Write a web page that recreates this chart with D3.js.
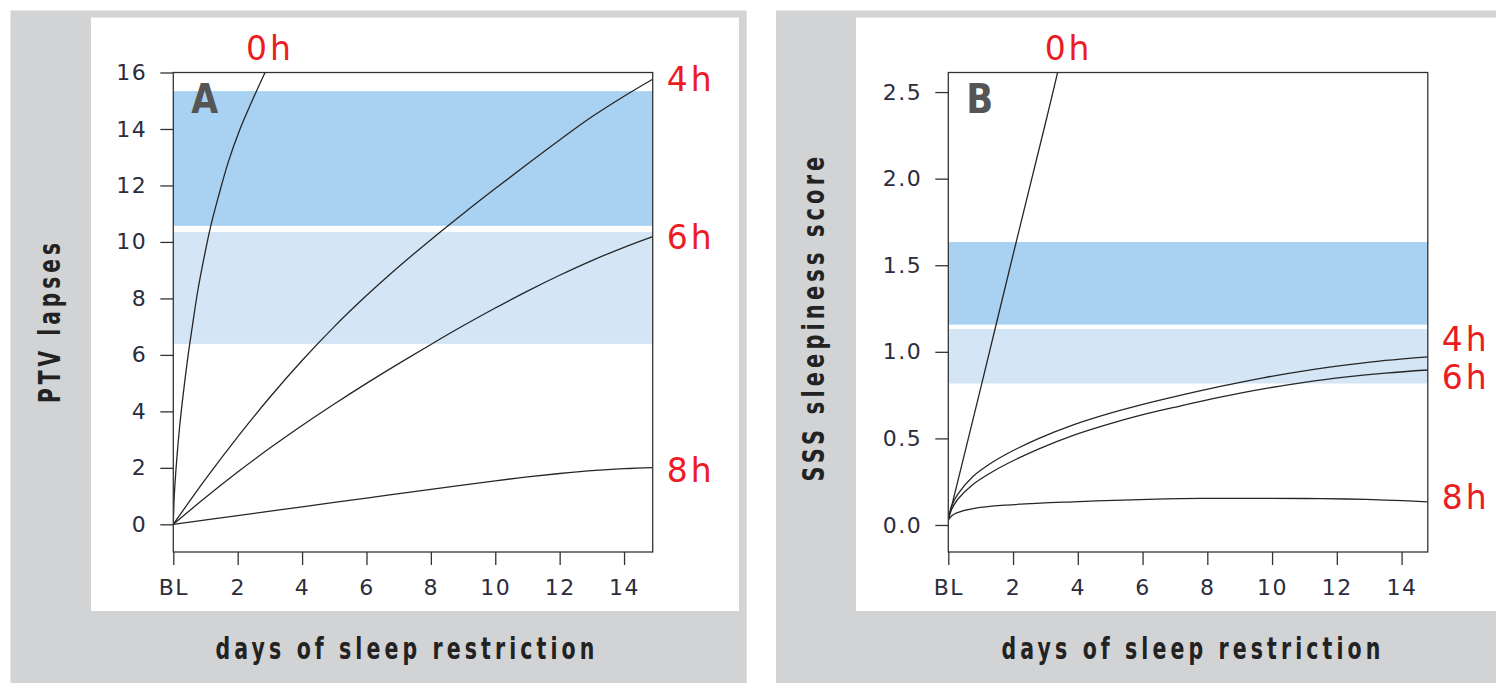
<!DOCTYPE html>
<html lang="en">
<head>
<meta charset="utf-8">
<title>Sleep restriction: PVT lapses and SSS sleepiness</title>
<script src="https://d3js.org/d3.v7.min.js"></script>
<style>
  body { margin: 0; background: #fff; }
  svg { display: block; }
  .axis text { font-family: "DejaVu Sans", sans-serif; font-size: 22px; fill: #2b2d3c; letter-spacing: 1.5px; }
  .axis line { stroke: #333; stroke-width: 1.3; }
  .hour { font-family: "DejaVu Sans", sans-serif; font-size: 33px; fill: #ec1c24; letter-spacing: 3px; }
  .title { font-family: "DejaVu Sans", sans-serif; font-weight: bold; font-size: 30px; fill: #222; letter-spacing: 6px; }
  .letter { font-family: "DejaVu Sans", sans-serif; font-weight: bold; font-size: 41px; fill: #555; }
  .curve { fill: none; stroke: #262626; stroke-width: 1.3; }
</style>
</head>
<body>
<script>
// ---- data ----
const hourLabels = ["0h", "4h", "6h", "8h"];
const dayTicks = [0, 2, 4, 6, 8, 10, 12, 14];

// panel A: PVT lapses
const ptvTicks = [0, 2, 4, 6, 8, 10, 12, 14, 16];
const ptv0h = [[0,0],[0.03,1.0],[0.105,2.27],[0.2,3.5],[0.31,4.63],[0.45,5.9],[0.59,7.0],[0.75,8.2],[0.93,9.3],[1.15,10.5],[1.4,11.6],[1.7,12.8],[2.04,13.9],[2.45,15.0],[2.85,16.0],[3.1,16.6]];
const ptv4h = [[0,0],[1,1.6],[2,3.1],[3,4.5],[4,5.8],[5,7.0],[6,8.1],[7,9.12],[8,10.08],[9,11.0],[10,11.89],[11,12.76],[12,13.61],[13,14.43],[14,15.16],[14.89,15.76]];
const ptv6h = [[0,0],[1,0.95],[2,1.85],[3,2.7],[4,3.5],[5,4.26],[6,4.99],[7,5.69],[8,6.37],[9,7.03],[10,7.66],[11,8.26],[12,8.82],[13,9.34],[14,9.81],[14.89,10.19]];
const ptv8h = [[0,0],[2,0.31],[4,0.62],[6,0.93],[8,1.24],[10,1.54],[11,1.68],[12,1.8],[13,1.9],[14,1.97],[14.89,2.01]];
const ptvBands = [[10.57, 15.34], [6.39, 10.35]];

// panel B: SSS sleepiness score
const sssTicks = [0, 0.5, 1.0, 1.5, 2.0, 2.5];
const sss0h = [[0,0.03],[1,0.79],[2,1.56],[3,2.32],[3.5,2.71]];
const sss4h = [[0,0.03],[0.1,0.11],[0.3,0.18],[0.77,0.282],[1.3,0.355],[1.8,0.41],[2.8,0.5],[3.86,0.578],[4.9,0.64],[5.92,0.692],[7.16,0.748],[8.4,0.8],[9.73,0.85],[11,0.89],[12.31,0.924],[13.5,0.95],[14.81,0.971]];
const sss6h = [[0,0.03],[0.1,0.09],[0.3,0.15],[0.77,0.235],[1.3,0.3],[1.8,0.352],[2.8,0.44],[3.86,0.518],[4.9,0.58],[5.92,0.633],[7.16,0.687],[8.4,0.738],[9.73,0.786],[11,0.824],[12.31,0.855],[13.5,0.877],[14.81,0.895]];
const sss8h = [[0,0.03],[0.1,0.052],[0.26,0.07],[0.77,0.095],[1.8,0.115],[3.86,0.134],[5.92,0.147],[7.16,0.152],[8.5,0.154],[9.73,0.154],[11,0.153],[12.31,0.15],[13.5,0.144],[14.81,0.134]];
const sssBands = [[1.157, 1.634], [0.817, 1.132]];

const bandColors = ["#a9d1f1", "#d4e5f5"];

const W = 1496, H = 683;
const svg = d3.select("body").append("svg").attr("width", W).attr("height", H);

// squeeze a text horizontally to a given width (stands in for a condensed face)
function condensed(parent, cls, str, width, transform, baselineShift) {
  const t = parent.append("g").attr("transform", transform).append("text")
    .attr("class", cls).attr("text-anchor", "middle").attr("dy", baselineShift).text(str);
  const natural = t.node().getComputedTextLength();
  t.attr("transform", `scale(${width / natural},1)`);
  return t;
}

function panel(o) {
  // grey frame and white card
  svg.append("rect").attr("x", o.frame[0]).attr("y", 10.5)
    .attr("width", o.frame[1] - o.frame[0]).attr("height", H - 10.5).attr("fill", "#d2d3d5");
  svg.append("rect").attr("x", o.card[0]).attr("y", 17.5)
    .attr("width", o.card[1] - o.card[0]).attr("height", 611 - 17.5).attr("fill", "#fff");

  const x = d3.scaleLinear().domain(o.xDomain).range([o.left, o.right]);
  const y = d3.scaleLinear().domain(o.yDomain).range([552, 72.5]);
  const g = svg.append("g");

  const clipId = "clip-" + o.name;
  svg.append("clipPath").attr("id", clipId).append("rect")
    .attr("x", o.left).attr("y", 72.5).attr("width", o.right - o.left).attr("height", 552 - 72.5);

  // reference bands
  g.selectAll(".band").data(o.bands).join("rect")
    .attr("x", o.left).attr("width", o.right - o.left)
    .attr("y", d => y(d[1])).attr("height", d => y(d[0]) - y(d[1]))
    .attr("fill", (d, i) => bandColors[i]);

  const line = d3.line().x(d => x(d[0])).y(d => y(d[1])).curve(d3.curveCatmullRom.alpha(0.5));
  g.append("g").attr("clip-path", `url(#${clipId})`)
    .selectAll("path").data(o.series).join("path")
    .attr("class", "curve").attr("d", d => line(d));

  // box
  g.append("rect").attr("x", o.left).attr("y", 72.5)
    .attr("width", o.right - o.left).attr("height", 552 - 72.5)
    .attr("fill", "none").attr("stroke", "#333").attr("stroke-width", 1.3);

  g.append("g").attr("class", "axis").attr("transform", `translate(${o.left},0)`)
    .call(d3.axisLeft(y).tickValues(o.yTicks).tickSize(13).tickSizeOuter(0).tickPadding(13).tickFormat(o.yFormat))
    .call(a => a.select(".domain").remove());
  g.append("g").attr("class", "axis").attr("transform", "translate(0,552)")
    .call(d3.axisBottom(x).tickValues(dayTicks).tickSize(13).tickSizeOuter(0).tickPadding(14).tickFormat(d => d === 0 ? "BL" : d))
    .call(a => a.select(".domain").remove());

  // hour labels: 0h above the top, the others at the curve ends
  const top = o.series[0];
  let cross = top[top.length - 1][0];
  for (let i = 1; i < top.length; i++) {
    if (top[i][1] >= o.yDomain[1]) {
      const a = top[i - 1], b = top[i];
      cross = a[0] + (o.yDomain[1] - a[1]) / (b[1] - a[1]) * (b[0] - a[0]);
      break;
    }
  }
  g.append("text").attr("class", "hour").attr("text-anchor", "middle")
    .attr("x", x(cross) + o.zeroShift).attr("y", 60).text(hourLabels[0]);
  o.series.slice(1).forEach((s, i) => {
    const end = s[s.length - 1];
    g.append("text").attr("class", "hour")
      .attr("x", o.right + 14).attr("y", y(end[1]) + 12 + o.nudge[i])
      .text(hourLabels[i + 1]);
  });

  condensed(g, "letter", o.name, 27, `translate(${o.left + 31.5},113)`, 0);

  condensed(g, "title", o.yTitle, o.yTitleLen, `translate(${o.yTitleX},${o.yTitleY}) rotate(-90)`, "0.36em");
  condensed(g, "title", "days of sleep restriction", 383, `translate(${o.xTitleX},659)`, 0);
}

panel({
  name: "A", frame: [10.5, 746.7], card: [91, 739],
  left: 173.3, right: 652.7, xDomain: [0, 14.89], yDomain: [-0.98, 16.0],
  yTicks: ptvTicks, yFormat: d => d,
  series: [ptv0h, ptv4h, ptv6h, ptv8h], bands: ptvBands,
  nudge: [0, 0, 2], zeroShift: 5,
  yTitle: "PTV lapses", yTitleLen: 164, yTitleX: 49, yTitleY: 321, xTitleX: 407
});

panel({
  name: "B", frame: [776, 1496], card: [856, 1496],
  left: 948.3, right: 1427.8, xDomain: [0, 14.81], yDomain: [-0.156, 2.613],
  yTicks: sssTicks, yFormat: d3.format(".1f"),
  series: [sss0h, sss4h, sss6h, sss8h], bands: sssBands,
  nudge: [-18, 7, -5], zeroShift: 11,
  yTitle: "SSS sleepiness score", yTitleLen: 329, yTitleX: 813, yTitleY: 317, xTitleX: 1193
});
</script>
</body>
</html>
